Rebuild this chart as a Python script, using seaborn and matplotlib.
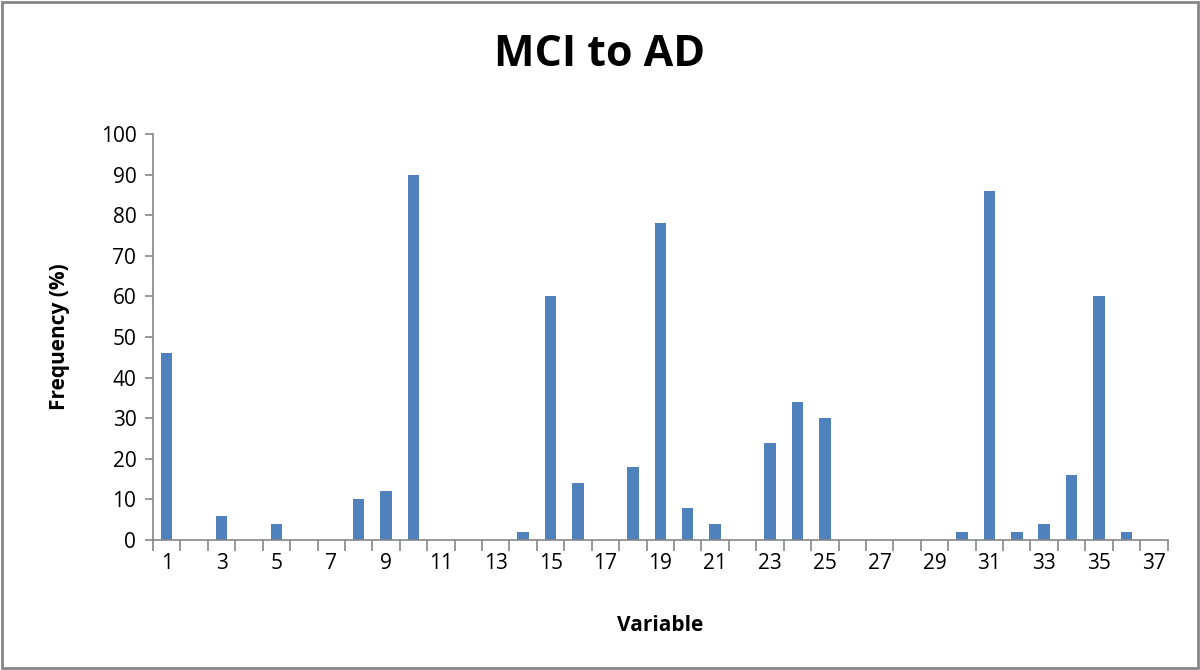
import numpy as np
import pandas as pd
import seaborn as sns
import matplotlib.pyplot as plt
from matplotlib.patches import Rectangle

variables = list(range(1, 38))
frequency = [46, 0, 6, 0, 4, 0, 0, 10, 12, 90,
             0, 0, 0, 2, 60, 14, 0, 18, 78, 8,
             4, 0, 24, 34, 30, 0, 0, 0, 0, 2,
             86, 2, 4, 16, 60, 2, 0]
df = pd.DataFrame({'Variable': variables, 'Frequency': frequency})

sns.set_style('white')
plt.rcParams['font.family'] = ['Open Sans', 'DejaVu Sans']
plt.rcParams['text.color'] = 'black'
plt.rcParams['xtick.labelcolor'] = 'black'
plt.rcParams['ytick.labelcolor'] = 'black'

fig = plt.figure(figsize=(12, 6.7), dpi=100)
ax = fig.add_axes([0.1275, 0.194, 0.8455, 0.606])
sns.barplot(data=df, x='Variable', y='Frequency', order=variables,
            color='#4f81bd', saturation=1, width=0.42, linewidth=0, ax=ax)

axis_grey = '#868686'
ax.set_xlim(-0.5, len(variables) - 0.5)
ax.set_ylim(0, 100)
ax.set_yticks(np.arange(0, 101, 10))
ax.tick_params(axis='y', labelsize=15, length=6, color=axis_grey, width=1.2,
               direction='out', left=True, pad=6)

# labels at odd variables, tick marks at category boundaries (Excel style)
ax.set_xticks(np.arange(0, len(variables), 2))
ax.set_xticklabels([str(v) for v in variables[::2]])
ax.set_xticks(np.arange(-0.5, len(variables), 1), minor=True)
ax.tick_params(axis='x', which='major', length=0, labelsize=15, pad=9)
ax.tick_params(axis='x', which='minor', length=8, color=axis_grey, width=1.2,
               direction='out', bottom=True)

for s in ['top', 'right']:
    ax.spines[s].set_visible(False)
for s in ['left', 'bottom']:
    ax.spines[s].set_color(axis_grey)
    ax.spines[s].set_linewidth(1.2)

ax.set_xlabel('Variable', fontsize=15, fontweight='bold', labelpad=30, color='black')
ax.set_ylabel('Frequency (%)', fontsize=15, fontweight='bold', labelpad=22, color='black')
fig.suptitle('MCI to AD', fontsize=31, fontweight='bold', y=0.95, color='black')

fig.patches.append(Rectangle((0.002, 0.003), 0.996, 0.994, transform=fig.transFigure,
                             fill=False, edgecolor=axis_grey, linewidth=2))

fig.savefig('out.png', dpi=100)
